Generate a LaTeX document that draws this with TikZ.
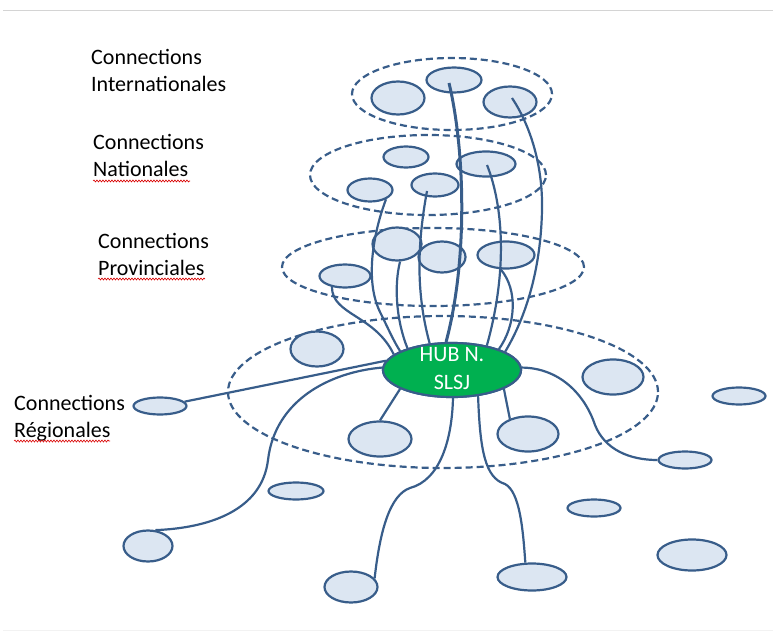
\documentclass[tikz,border=0pt]{standalone}
\usepackage{fontspec}
\setmainfont{Carlito}
\usetikzlibrary{shapes.geometric,decorations.pathmorphing}
\definecolor{edgeblue}{RGB}{56,93,138}
\definecolor{blobfill}{RGB}{220,230,242}
\definecolor{hubgreen}{RGB}{0,176,80}
\definecolor{rulegray}{RGB}{212,212,212}
\definecolor{rulefaint}{RGB}{242,242,242}

\begin{document}
\begin{tikzpicture}[x=1pt,y=-1pt,
  blob/.style 2 args={ellipse, draw=edgeblue, fill=blobfill, line width=2.2pt,
    inner sep=0pt, minimum width=#1, minimum height=#2},
  ring/.style 2 args={ellipse, draw=edgeblue, line width=2.2pt,
    dash pattern=on 7pt off 4pt, inner sep=0pt, minimum width=#1, minimum height=#2},
  hubshape/.style={ellipse, draw=edgeblue, fill=hubgreen, line width=2.2pt,
    inner sep=0pt, minimum width=138, minimum height=54},
  hubtext/.style={text=white, align=center, inner sep=0pt,
    font=\fontsize{22}{28}\selectfont},
  link/.style={draw=edgeblue, line width=2.2pt},
  tier/.style={anchor=base west, align=left, inner sep=0pt,
    font=\fontsize{22}{27}\selectfont},
  spell/.style={draw=red!85!black, line width=0.6pt, decorate,
    decoration={snake, amplitude=1pt, segment length=3pt}}]

\useasboundingbox (0,0) rectangle (773,631);

% page rules
\draw[rulegray, line width=1pt] (3,10.5) -- (773,10.5);
\draw[rulefaint, line width=1pt] (3,630) -- (773,630);

% dashed tiers
\node[ring={200}{72}]  (ringI) at (452,94)  {};
\node[ring={236}{80}]  (ringN) at (428,175) {};
\node[ring={302}{78}]  (ringP) at (433,267) {};
\node[ring={430}{152}] (ringR) at (443,392) {};

% international
\node[blob={53}{33}] (i1) at (398,98)  {};
\node[blob={55}{25}] (i2) at (454,80)  {};
\node[blob={53}{31}] (i3) at (510,102) {};

% national
\node[blob={45}{21}] (n1) at (406,157) {};
\node[blob={59}{25}] (n2) at (486,164) {};
\node[blob={45}{23}] (n3) at (370,190) {};
\node[blob={47}{23}] (n4) at (435,185) {};

% provincial
\node[blob={51}{23}] (p1) at (345,276) {};
\node[blob={49}{33}] (p2) at (397,244) {};
\node[blob={47}{31}] (p3) at (442,257) {};
\node[blob={57}{27}] (p4) at (506,255) {};

% regional
\node[blob={53}{35}] (r1)  at (317,349) {};
\node[blob={53}{17}] (r2)  at (160,406) {};
\node[blob={63}{35}] (r3)  at (380,439) {};
\node[blob={55}{17}] (r4)  at (296,491) {};
\node[blob={49}{31}] (r5)  at (148,546) {};
\node[blob={53}{31}] (r6)  at (351,587) {};
\node[blob={61}{35}] (r7)  at (613,377) {};
\node[blob={53}{17}] (r8)  at (739,396) {};
\node[blob={61}{35}] (r9)  at (528,434) {};
\node[blob={53}{17}] (r10) at (685,460) {};
\node[blob={53}{17}] (r11) at (594,508) {};
\node[blob={69}{31}] (r12) at (692,555) {};
\node[blob={69}{27}] (r13) at (532,577) {};

% hub
\node[hubshape] (hub) at (452,370) {};

% links from the upper tiers down to the hub
\draw[link, line width=3pt] ([shift={(-5,3)}]i2.center)
  .. controls (465,150) and (468,260) .. (hub.102);
\draw[link] ([shift={(2,-4)}]i3.center)
  .. controls (530,125) and (543,165) .. (542,210)
  .. controls (541,260) and (530,310) .. (hub.19);
\draw[link] ([shift={(1,1)}]n2.center)
  .. controls (503,205) and (508,270) .. (hub.35);
\draw[link] (p4.250) .. controls (518,290) and (516,325) .. (hub.24);
\draw[link] (n3.-30)
  .. controls (378,220) and (362,275) .. (380,312)
  .. controls (388,328) and (393,340) .. (hub.160);
\draw[link] (p2.-80) .. controls (394,285) and (396,320) .. (hub.154);
\draw[link] ([shift={(-8,6)}]n4.center)
  .. controls (418,240) and (415,290) .. (hub.130);
\draw[link] (p1.220) .. controls (332,315) and (375,315) .. (hub.165);

% regional links
\draw[link] (hub.172) -- (r2.10);
\draw[link] (hub.178)
  .. controls (330,372) and (275,400) .. (268,460)
  .. controls (262,510) and (210,528) .. (r5.65);
\draw[link] (hub.200) -- (r3.north);
\draw[link] (hub.272)
  .. controls (452,440) and (440,480) .. (410,488)
  .. controls (390,495) and (380,530) .. (r6.20);
\draw[link] (hub.315)
  .. controls (480,450) and (485,478) .. (505,484)
  .. controls (520,492) and (523,530) .. (r13.115);
\draw[link] (hub.340) -- (r9.140);
\draw[link] (hub.2)
  .. controls (560,368) and (585,395) .. (595,425)
  .. controls (605,450) and (630,460) .. (r10.west);

% hub redrawn over the link ends, with its caption
\node[hubshape] (hubtop) at (hub.center) {};
\node[hubtext] (hublabel) at (452,369) {HUB N.\\SLSJ};

% tier captions (anchored on the baseline of the second line)
\node[tier] (tI) at (91,92)  {Connections\\Internationales};
\node[tier] (tN) at (93,177) {Connections\\Nationales};
\node[tier] (tP) at (98,275) {Connections\\Provinciales};
\node[tier] (tR) at (14,437) {Connections\\Régionales};

% spell-check underlines
\draw[spell] (93,181) -- (190,181);
\draw[spell] (98,279) -- (205,279);
\draw[spell] (14,441) -- (110,441);
\end{tikzpicture}
\end{document}
